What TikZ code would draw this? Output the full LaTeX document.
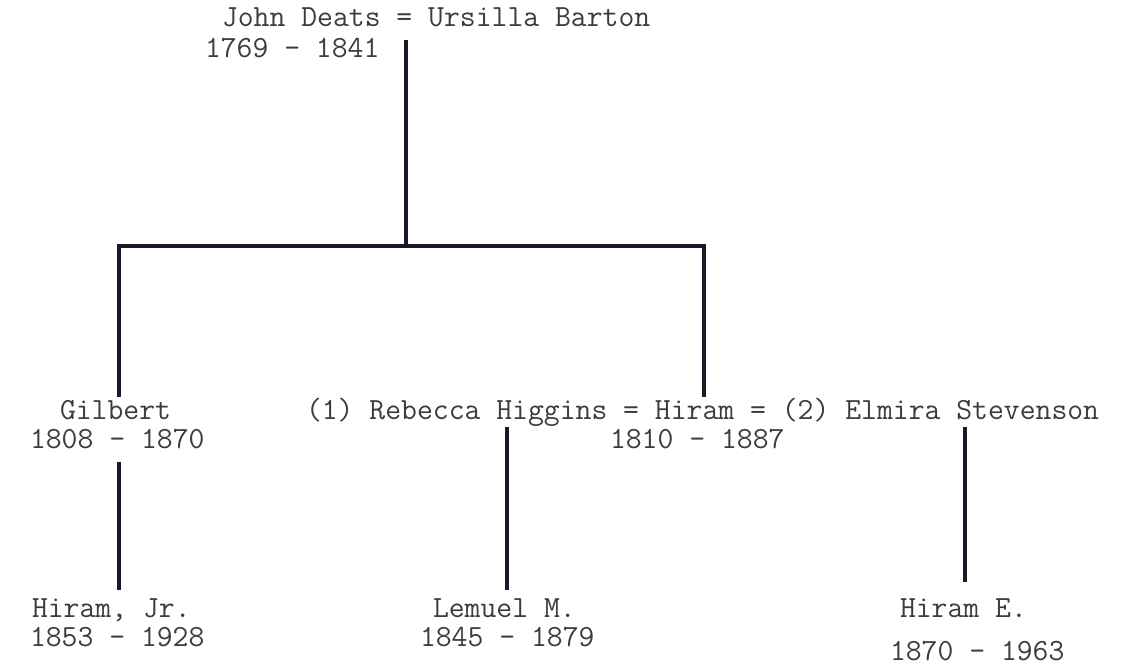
\documentclass[tikz,border=0pt]{standalone}
\usepackage{fontspec}
\definecolor{ink}{RGB}{60,60,60}
\definecolor{bar}{RGB}{25,25,45}
\begin{document}
\begin{tikzpicture}[x=1pt,y=-1pt,
  typed/.style={anchor=base west,inner sep=0pt,outer sep=0pt,text=ink,
    font=\ttfamily\fontsize{30.8}{37}\selectfont},
  rule/.style={draw=bar,line width=3.6pt}]
\useasboundingbox (0,0) rectangle (1125,672);
% text
\node[typed] (couple) at (222,26) {John Deats = Ursilla Barton};
\node[typed] (coupled) at (205,57) {1769 - 1841};
\node[typed] (gilbert) at (60,419) {Gilbert};
\node[typed] (gilbertd) at (30,448) {1808 - 1870};
\node[typed] (hiramline) at (306,419) {(1) Rebecca Higgins = Hiram = (2) Elmira Stevenson};
\node[typed] (hiramd) at (610,448) {1810 - 1887};
\node[typed] (hiramjr) at (32,617) {Hiram, Jr.};
\node[typed] (hiramjrd) at (30,646) {1853 - 1928};
\node[typed] (lemuel) at (433,617) {Lemuel M.};
\node[typed] (lemueld) at (420,646) {1845 - 1879};
\node[typed] (hirame) at (900,617) {Hiram E.};
\node[typed] (hirameD) at (890,660) {1870 - 1963};
% junctions
\coordinate (top) at (406,40);
\coordinate (mid) at (406,246);
\coordinate (barL) at (119,246);
\coordinate (barR) at (704,246);
\coordinate (gilT) at (119,397);
\coordinate (hirT) at (704,397);
\coordinate (g1) at (119,462);
\coordinate (g2) at (119,590);
\coordinate (r1) at (507,427);
\coordinate (r2) at (507,590);
\coordinate (e1) at (965,427);
\coordinate (e2) at (965,582);
% connectors
\draw[rule] (top) -- (mid);
\draw[rule] (gilT) -- (barL) -- (barR) -- (hirT);
\draw[rule] (g1) -- (g2);
\draw[rule] (r1) -- (r2);
\draw[rule] (e1) -- (e2);
\end{tikzpicture}
\end{document}
